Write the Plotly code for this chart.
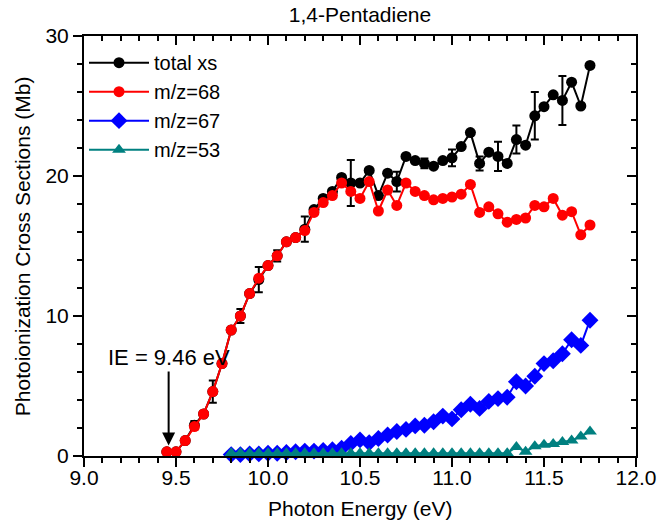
import plotly.graph_objects as go

# Photon energies (eV)
energy = [9.45, 9.50, 9.55, 9.60, 9.65, 9.70, 9.75, 9.80, 9.85, 9.90,
          9.95, 10.00, 10.05, 10.10, 10.15, 10.20, 10.25, 10.30, 10.35, 10.40,
          10.45, 10.50, 10.55, 10.60, 10.65, 10.70, 10.75, 10.80, 10.85, 10.90,
          10.95, 11.00, 11.05, 11.10, 11.15, 11.20, 11.25, 11.30, 11.35, 11.40,
          11.45, 11.50, 11.55, 11.60, 11.65, 11.70, 11.75]

total_xs = [0.3, 0.3, 1.1, 2.2, 3.0, 4.6, 6.6, 9.0, 10.0, 11.6,
            12.6, 13.6, 14.3, 15.3, 15.6, 16.2, 17.6, 18.4, 18.9, 19.9,
            19.5, 19.5, 20.4, 18.6, 20.2, 19.6, 21.4, 21.1, 20.9, 20.7,
            21.1, 21.3, 22.1, 23.1, 20.9, 21.7, 21.4, 20.9, 22.6, 22.2,
            24.3, 24.95, 25.8, 25.4, 26.7, 25.0, 27.9]

total_err = [0, 0, 0, 0.3, 0, 0.8, 0, 0, 0.5, 0,
             0.9, 0, 0.4, 0, 0, 0.9, 0, 0, 0, 0,
             1.65, 0, 0, 0, 0, 0.7, 0, 0, 0.35, 0,
             0, 0.6, 0, 0, 0.5, 0, 1.05, 0, 1.0, 0,
             1.7, 0, 0, 1.75, 0, 0, 0]

mz68 = [0.3, 0.3, 1.1, 2.1, 3.0, 4.6, 6.6, 9.0, 10.0, 11.6,
        12.7, 13.6, 14.3, 15.3, 15.6, 16.1, 17.4, 18.1, 18.6, 19.5,
        18.9, 18.4, 19.6, 17.5, 19.0, 17.9, 19.5, 18.9, 18.6, 18.3,
        18.4, 18.5, 18.7, 19.4, 17.4, 17.8, 17.3, 16.7, 16.9, 17.0,
        17.9, 17.8, 18.4, 17.2, 17.45, 15.8, 16.5]

energy_frag = [9.80, 9.85, 9.90, 9.95, 10.00, 10.05, 10.10, 10.15, 10.20, 10.25,
               10.30, 10.35, 10.40, 10.45, 10.50, 10.55, 10.60, 10.65, 10.70, 10.75,
               10.80, 10.85, 10.90, 10.95, 11.00, 11.05, 11.10, 11.15, 11.20, 11.25,
               11.30, 11.35, 11.40, 11.45, 11.50, 11.55, 11.60, 11.65, 11.70, 11.75]

mz67 = [0.1, 0.1, 0.15, 0.15, 0.2, 0.2, 0.25, 0.3, 0.35, 0.35,
        0.4, 0.45, 0.55, 0.9, 1.15, 0.95, 1.25, 1.5, 1.75, 1.9,
        2.15, 2.2, 2.45, 2.85, 2.65, 3.3, 3.7, 3.4, 3.9, 4.1,
        4.2, 5.3, 5.0, 5.7, 6.6, 6.8, 7.3, 8.3, 7.9, 9.7]

mz53 = [0.2, 0.2, 0.2, 0.2, 0.2, 0.2, 0.2, 0.2, 0.2, 0.2,
        0.2, 0.2, 0.2, 0.2, 0.2, 0.2, 0.2, 0.2, 0.2, 0.2,
        0.2, 0.2, 0.2, 0.2, 0.2, 0.2, 0.2, 0.2, 0.2, 0.2,
        0.2, 0.65, 0.3, 0.7, 0.8, 0.85, 1.0, 1.1, 1.4, 1.75]

x_ticks = [9.0, 9.5, 10.0, 10.5, 11.0, 11.5, 12.0]
y_ticks = [0, 10, 20, 30]

x_title = "Photon Energy (eV)"
y_title = "Photoionization Cross Sections (Mb)"

FONT = "Liberation Sans, Arial, sans-serif"

fig = go.Figure()
fig.add_trace(go.Scatter(
    x=energy, y=total_xs, name="total xs", mode="lines+markers",
    line=dict(color="black", width=2),
    marker=dict(symbol="circle", size=11, color="black"),
    error_y=dict(type="data", array=total_err, visible=True, color="black",
                 thickness=2, width=4),
    cliponaxis=False))
fig.add_trace(go.Scatter(
    x=energy, y=mz68, name="m/z=68", mode="lines+markers",
    line=dict(color="#ff0000", width=2),
    marker=dict(symbol="circle", size=11, color="#ff0000"),
    cliponaxis=False))
fig.add_trace(go.Scatter(
    x=energy_frag, y=mz67, name="m/z=67", mode="lines+markers",
    line=dict(color="#0000ff", width=2),
    marker=dict(symbol="diamond", size=13, color="#0000ff"),
    cliponaxis=False))
fig.add_trace(go.Scatter(
    x=energy_frag, y=mz53, name="m/z=53", mode="lines+markers",
    line=dict(color="#008080", width=2),
    marker=dict(symbol="triangle-up", size=12, color="#008080"),
    cliponaxis=False))
# empty trace to carry the mirrored top/right axes
fig.add_trace(go.Scatter(x=[], y=[], xaxis="x2", yaxis="y2", showlegend=False,
                         hoverinfo="skip"))

fig.add_annotation(
    x=9.46, y=0.75, xref="x", yref="y", text="IE = 9.46 eV",
    showarrow=True, ax=0, ay=-88, axref="pixel", ayref="pixel",
    arrowhead=2, arrowsize=1.3, arrowwidth=2, arrowcolor="black",
    font=dict(family=FONT, size=22, color="black"))

# axis titles placed as annotations for exact positioning
fig.add_annotation(x=0.5, y=-0.124, xref="paper", yref="paper", text=x_title,
                   showarrow=False, xanchor="center", yanchor="middle",
                   font=dict(family=FONT, size=21, color="black"))
fig.add_annotation(x=-0.112, y=0.5, xref="paper", yref="paper", text=y_title,
                   showarrow=False, xanchor="center", yanchor="middle", textangle=-90,
                   font=dict(family=FONT, size=21, color="black"))

axis_common = dict(showgrid=False, zeroline=False, linecolor="black", linewidth=2,
                   tickcolor="black", tickwidth=2, automargin=False)

fig.update_layout(
    width=658, height=522,
    margin=dict(l=84, r=22, t=36, b=66),
    paper_bgcolor="white", plot_bgcolor="white",
    font=dict(family=FONT, color="black"),
    title=dict(text="1,4-Pentadiene", x=0.5, xref="paper", y=0.972, yref="container",
               yanchor="middle", xanchor="center",
               font=dict(family=FONT, size=21, color="black")),
    showlegend=True,
    legend=dict(x=0.0, y=0.983, xanchor="left", yanchor="top",
                bgcolor="rgba(0,0,0,0)", font=dict(family=FONT, size=20),
                tracegroupgap=0, itemwidth=60),
    xaxis=dict(range=[9.0, 12.0], tickvals=x_ticks, ticktext=[f"{v:.1f}" for v in x_ticks],
               ticks="outside", ticklen=9, ticklabelstandoff=-7,
               minor=dict(dtick=0.1, tick0=9.0, ticks="outside", ticklen=5,
                          tickcolor="black", tickwidth=2),
               tickfont=dict(family=FONT, size=21),
               **axis_common),
    yaxis=dict(range=[0, 30], tickvals=y_ticks, ticks="outside", ticklen=9,
               minor=dict(dtick=2, tick0=0, ticks="outside", ticklen=5,
                          tickcolor="black", tickwidth=2),
               tickfont=dict(family=FONT, size=21),
               **axis_common),
    xaxis2=dict(range=[9.0, 12.0], overlaying="x", side="top", anchor="y2",
                tickvals=x_ticks, showticklabels=False, ticks="inside", ticklen=9,
                minor=dict(dtick=0.1, tick0=9.0, ticks="inside", ticklen=5,
                           tickcolor="black", tickwidth=2),
                **axis_common),
    yaxis2=dict(range=[0, 30], overlaying="y", side="right", anchor="x2",
                tickvals=y_ticks, showticklabels=False, ticks="inside", ticklen=9,
                minor=dict(dtick=2, tick0=0, ticks="inside", ticklen=5,
                           tickcolor="black", tickwidth=2),
                **axis_common),
)

fig.write_html("out.html")
